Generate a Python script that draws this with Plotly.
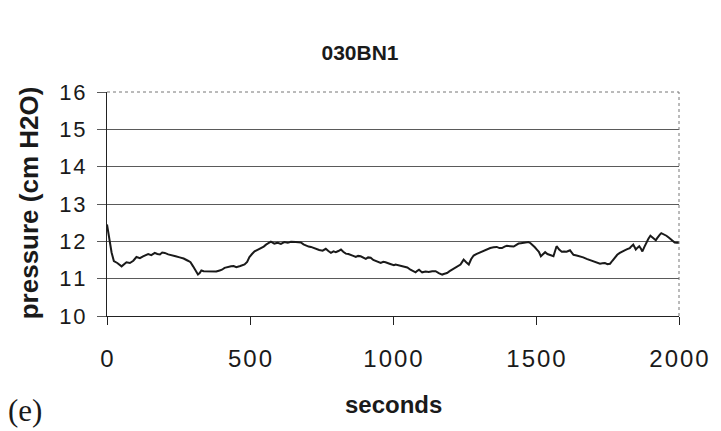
import plotly.graph_objects as go

title_text = "030BN1"
x_label = "seconds"
y_label = "pressure (cm H2O)"
panel_label = "(e)"

seconds = [0, 8, 16, 24, 36, 51, 60, 68, 80, 92, 103, 115, 126, 135, 144, 155, 167, 176, 185, 193,
           202, 214, 225, 240, 254, 268, 283, 292, 301, 310, 318, 324, 330, 338, 347, 358, 370, 382,
           394, 402, 411, 422, 434, 443, 452, 466, 481, 490, 498, 507, 516, 528, 539, 548, 556, 564,
           573, 585, 597, 608, 620, 632, 643, 660, 678, 687, 696, 705, 713, 722, 731, 742, 754, 760,
           765, 774, 783, 792, 800, 809, 818, 826, 835, 844, 853, 861, 870, 878, 887, 896, 905, 913,
           922, 931, 940, 948, 957, 966, 974, 988, 1003, 1009, 1024, 1038, 1050, 1061, 1070, 1079,
           1085, 1091, 1097, 1102, 1114, 1125, 1137, 1149, 1160, 1172, 1180, 1189, 1198, 1207, 1215,
           1224, 1230, 1236, 1242, 1247, 1256, 1265, 1273, 1282, 1291, 1300, 1312, 1323, 1332, 1340,
           1352, 1363, 1372, 1381, 1390, 1398, 1410, 1422, 1430, 1439, 1447, 1456, 1465, 1474, 1481,
           1488, 1496, 1503, 1510, 1517, 1524, 1532, 1540, 1549, 1555, 1561, 1567, 1572, 1581, 1590,
           1598, 1607, 1613, 1619, 1625, 1631, 1642, 1654, 1665, 1677, 1688, 1700, 1712, 1724, 1732,
           1741, 1750, 1759, 1767, 1776, 1784, 1793, 1801, 1810, 1819, 1828, 1834, 1840, 1845, 1849,
           1855, 1861, 1867, 1872, 1879, 1886, 1893, 1900, 1905, 1909, 1914, 1919, 1923, 1927, 1933,
           1938, 1947, 1956, 1964, 1973, 1979, 1985, 1992, 2000]
pressure = [12.45, 12.05, 11.7, 11.47, 11.42, 11.33, 11.38, 11.44, 11.42, 11.48, 11.58, 11.55, 11.6,
            11.62, 11.66, 11.63, 11.69, 11.66, 11.65, 11.7, 11.69, 11.65, 11.62, 11.6, 11.57, 11.54,
            11.48, 11.44, 11.33, 11.2, 11.11, 11.15, 11.22, 11.2, 11.2, 11.18, 11.2, 11.19, 11.22,
            11.24, 11.29, 11.3, 11.33, 11.34, 11.31, 11.34, 11.38, 11.45, 11.58, 11.66, 11.73, 11.78,
            11.82, 11.86, 11.91, 11.95, 11.99, 11.94, 11.96, 11.93, 11.98, 11.96, 11.99, 11.98, 11.97,
            11.92, 11.88, 11.86, 11.85, 11.82, 11.8, 11.77, 11.75, 11.78, 11.8, 11.74, 11.69, 11.73,
            11.71, 11.74, 11.78, 11.72, 11.67, 11.66, 11.64, 11.61, 11.58, 11.61, 11.6, 11.56, 11.53,
            11.57, 11.56, 11.5, 11.47, 11.45, 11.42, 11.45, 11.44, 11.4, 11.36, 11.38, 11.35, 11.31,
            11.3, 11.24, 11.2, 11.17, 11.21, 11.24, 11.2, 11.17, 11.19, 11.18, 11.2, 11.2, 11.15,
            11.11, 11.13, 11.15, 11.2, 11.24, 11.28, 11.33, 11.36, 11.38, 11.45, 11.51, 11.44, 11.38,
            11.52, 11.62, 11.66, 11.69, 11.74, 11.78, 11.8, 11.82, 11.84, 11.85, 11.82, 11.82, 11.86,
            11.88, 11.87, 11.86, 11.9, 11.94, 11.95, 11.96, 11.97, 11.98, 11.95, 11.91, 11.84, 11.78,
            11.72, 11.6, 11.66, 11.71, 11.66, 11.64, 11.63, 11.6, 11.75, 11.87, 11.78, 11.72, 11.73,
            11.72, 11.74, 11.76, 11.7, 11.64, 11.62, 11.6, 11.57, 11.53, 11.5, 11.47, 11.44, 11.4,
            11.41, 11.42, 11.39, 11.4, 11.48, 11.58, 11.64, 11.69, 11.73, 11.76, 11.79, 11.82, 11.87,
            11.91, 11.84, 11.78, 11.83, 11.87, 11.8, 11.73, 11.85, 11.97, 12.07, 12.15, 12.12, 12.09,
            12.05, 12.03, 12.08, 12.13, 12.18, 12.22, 12.19, 12.15, 12.1, 12.05, 12.0, 11.97, 11.96,
            11.96]

x_tick_vals = [0, 500, 1000, 1500, 2000]
y_tick_vals = [10, 11, 12, 13, 14, 15, 16]

SP = "\u200a"


def spaced(v):
    return SP.join(str(v))


FONT = "Liberation Sans, Arial, sans-serif"

fig = go.Figure()
fig.add_trace(go.Scatter(x=seconds, y=pressure, mode="lines",
                         line=dict(color="#1a1a1a", width=2), showlegend=False,
                         hoverinfo="x+y"))

fig.update_layout(
    width=721, height=431,
    margin=dict(l=107, r=40, t=92, b=115),
    paper_bgcolor="white", plot_bgcolor="white",
    font=dict(family=FONT, color="#1a1a1a"),
    title=dict(text="<b>" + title_text + "</b>", x=360 / 721, xanchor="center",
               y=1 - 53 / 431, yanchor="middle",
               font=dict(size=21, family=FONT, color="#1a1a1a")),
    xaxis=dict(range=[0, 2000], tickvals=x_tick_vals,
               ticktext=[spaced(v) for v in x_tick_vals],
               tickfont=dict(size=24), showgrid=False, zeroline=False,
               showline=True, linecolor="#222", linewidth=1.2, mirror=False,
               ticks="outside", ticklen=8, tickcolor="#222", tickwidth=1.2,
               ticklabelstandoff=13),
    yaxis=dict(range=[10, 16], tickvals=y_tick_vals,
               ticktext=[spaced(v) for v in y_tick_vals],
               tickfont=dict(size=22), showgrid=True, gridcolor="#5a5a5a", gridwidth=1.2,
               zeroline=False, showline=True, linecolor="#222", linewidth=1.2,
               ticks="outside", ticklen=9, tickcolor="#5a5a5a", tickwidth=1,
               ticklabelstandoff=7),
)

# frame top and right (thin grey)
fig.add_shape(type="line", xref="paper", yref="paper", x0=0, x1=1, y0=1, y1=1,
              line=dict(color="#777", width=1, dash="dot"))
fig.add_shape(type="line", xref="paper", yref="paper", x0=1, x1=1, y0=0, y1=1,
              line=dict(color="#777", width=1, dash="dot"))

fig.add_annotation(text="<b>" + x_label + "</b>", xref="paper", yref="paper",
                   x=(394 - 107) / 574, y=-(404 - 316) / 224, xanchor="center", yanchor="middle",
                   showarrow=False, font=dict(size=24, family=FONT))
fig.add_annotation(text="<b>" + y_label + "</b>", xref="paper", yref="paper",
                   x=-(107 - 29) / 574, y=(316 - 203) / 224, xanchor="center", yanchor="middle",
                   textangle=-90, showarrow=False,
                   font=dict(size=26, family=FONT))
fig.add_annotation(text=panel_label, xref="paper", yref="paper",
                   x=-(107 - 25) / 574, y=-(410 - 316) / 224, xanchor="center", yanchor="middle",
                   showarrow=False,
                   font=dict(size=31, family="Liberation Serif, Times New Roman, serif"))

fig.write_html("out.html")
